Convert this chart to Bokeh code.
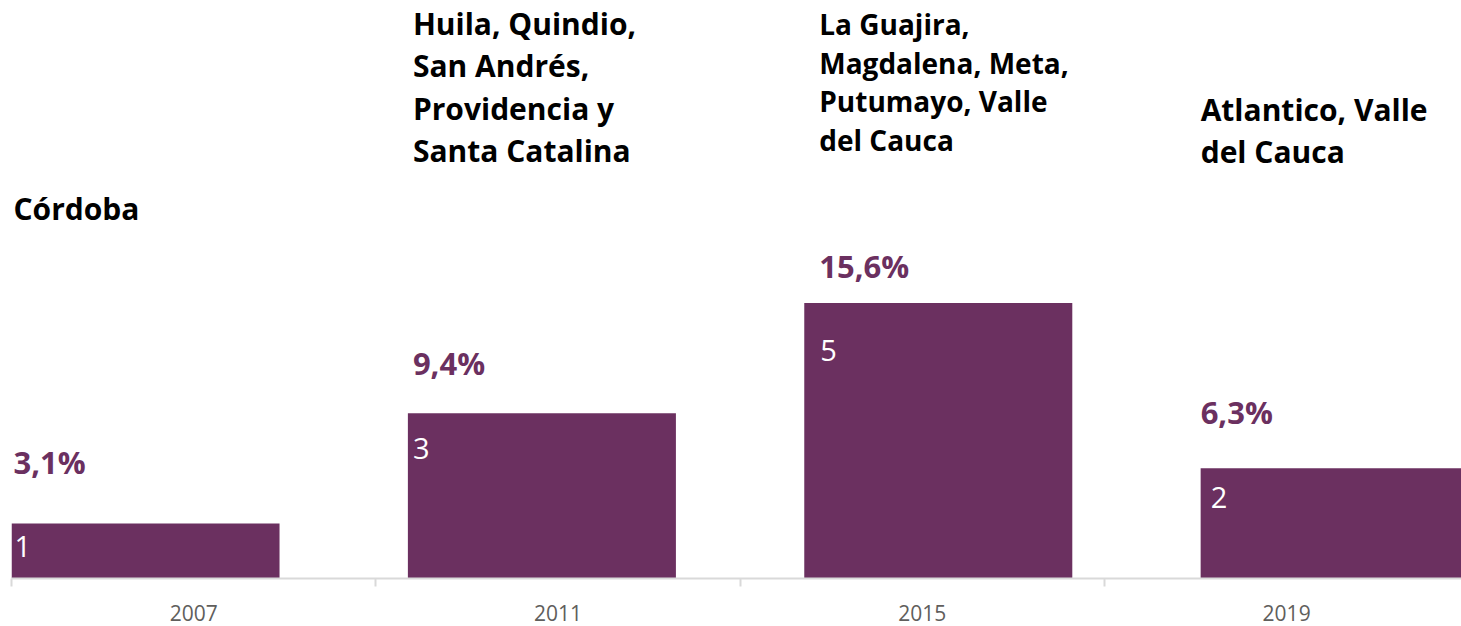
from bokeh.plotting import figure
from bokeh.models import Range1d, FixedTicker, ColumnDataSource
from bokeh.core.properties import value
from bokeh.embed import file_html
from bokeh.resources import INLINE

# ---- data ----
years = ["2007", "2011", "2015", "2019"]
counts = [1, 3, 5, 2]
pcts = [3.1, 9.4, 15.6, 6.3]
pct_labels = ["3,1%", "9,4%", "15,6%", "6,3%"]
regions = [
    "Córdoba",
    "Huila, Quindio,\nSan Andrés,\nProvidencia y\nSanta Catalina",
    "La Guajira,\nMagdalena, Meta,\nPutumayo, Valle\ndel Cauca",
    "Atlantico, Valle\ndel Cauca",
]

# ---- layout ----
BAR_COLOR = "#6B3060"
FONT = "Open Sans"
bar_step = 1.088        # bar spacing in category units
bar_w = 0.7357          # bar width in category units
name_top = [7.09, 10.44, 10.40, 8.89]   # annotation block tops (y units)
name_size = ["30px", "30px", "28px", "30px"]
name_lh = [1.03, 1.03, 1.01, 1.03]
text_dx = [2, 5, 15, 0]     # pixel offsets of the annotation texts
in_dx = [3, 5, 16, 10]      # pixel offsets of the in-bar labels

idx = list(range(len(years)))
left = [i * bar_step for i in idx]
right = [l + bar_w for l in left]
pct_y = [1.225 + 0.285 * p for p in pcts]
in_y = [0.891 * c - 0.318 for c in counts]

src = ColumnDataSource(dict(left=left, right=right, counts=counts,
                            pct_y=pct_y, pct_labels=pct_labels,
                            in_y=in_y, in_text=[str(c) for c in counts],
                            text_dx=text_dx, in_dx=in_dx))

p = figure(width=1461, height=626, output_backend="svg", toolbar_location=None,
           x_range=Range1d(0, 3.980), y_range=Range1d(0, 10.49),
           min_border_left=11, min_border_right=0, min_border_top=0,
           min_border_bottom=48)
p.outline_line_color = None
p.xgrid.visible = False
p.ygrid.visible = False
p.yaxis.visible = False

p.quad(left="left", right="right", bottom=0, top="counts", source=src,
       fill_color=BAR_COLOR, line_color=None)

p.text(x="left", y="pct_y", text="pct_labels", source=src, x_offset="text_dx",
       text_font=value(FONT), text_font_style="bold", text_font_size="31px",
       text_color=BAR_COLOR, text_baseline="middle", text_align="left")

p.text(x="left", y="in_y", text="in_text", source=src, x_offset="in_dx",
       text_font=value(FONT), text_font_size="29px",
       text_color="white", text_baseline="middle", text_align="left")

for i in idx:
    p.text(x=[left[i]], y=[name_top[i]], text=[regions[i]], x_offset=text_dx[i],
           text_font=value(FONT), text_font_style="bold", text_font_size=name_size[i],
           text_color="black", text_baseline="top", text_align="left",
           text_line_height=name_lh[i])

ax = p.xaxis[0]
ax.ticker = FixedTicker(ticks=[i + 0.5 for i in idx], minor_ticks=[float(i) for i in idx] + [4.0])
ax.major_label_overrides = {i + 0.5: y for i, y in zip(idx, years)}
ax.major_tick_out = 0
ax.major_tick_in = 0
ax.minor_tick_out = 8
ax.minor_tick_in = 0
ax.minor_tick_line_color = "#D9D9D9"
ax.minor_tick_line_width = 2
ax.axis_line_color = "#D9D9D9"
ax.axis_line_width = 2
ax.major_label_text_font = FONT
ax.major_label_text_font_size = "21px"
ax.major_label_text_color = "#605E5C"
ax.major_label_standoff = 18

open("out.html", "w").write(file_html(p, INLINE))
